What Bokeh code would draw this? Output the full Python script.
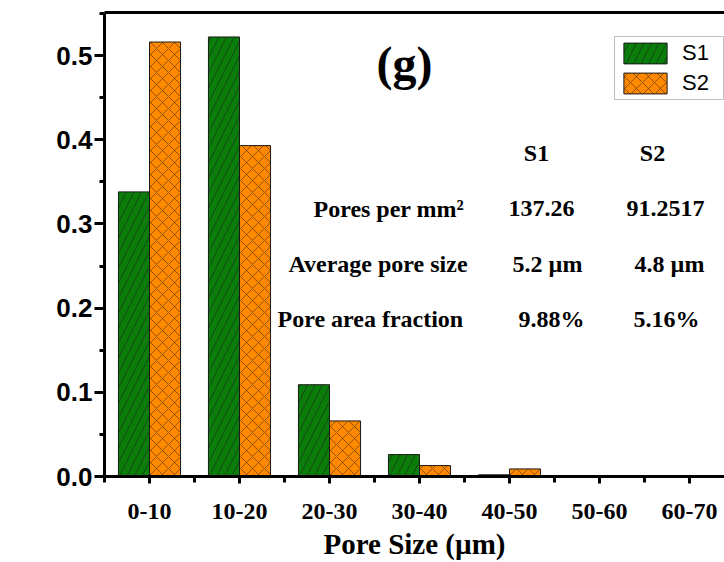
import math
from bokeh.plotting import figure
from bokeh.models import (Range1d, FixedTicker, LinearAxis,
                          Legend, LegendItem, Label, PrintfTickFormatter, ColumnDataSource)
from bokeh.transform import dodge
from bokeh.embed import file_html
from bokeh.resources import INLINE

# ---------------- data ----------------
categories = ["0-10", "10-20", "20-30", "30-40", "40-50", "50-60", "60-70"]
s1_freq = [0.338, 0.522, 0.109, 0.026, 0.002, 0.0, 0.0]
s2_freq = [0.516, 0.393, 0.066, 0.013, 0.009, 0.0, 0.0]
series_names = ["S1", "S2"]
panel_tag = "(g)"
table_header = ["S1", "S2"]
table_rows = ["Pores per mm\u00b2", "Average pore size", "Pore area fraction"]
table_s1 = ["137.26", "5.2 \u00b5m", "9.88%"]
table_s2 = ["91.2517", "4.8 \u00b5m", "5.16%"]
y_ticks = [0.0, 0.1, 0.2, 0.3, 0.4, 0.5]

# ---------------- layout helpers ----------------
X0_PX, DX_PX = 149.0, 90.0      # pixel of first group centre, pixels per group
Y0_PX, DY_PX = 476.0, 842.0     # pixel of y=0, pixels per unit


def dx(px):
    return 1 + (px - X0_PX) / DX_PX


def dy(py):
    return (Y0_PX - py) / DY_PX


xpos = list(range(1, len(categories) + 1))
src = ColumnDataSource(dict(x=xpos, s1=s1_freq, s2=s2_freq))

p = figure(width=724, height=562, output_backend="svg", toolbar_location=None,
           x_range=Range1d(0.5, dx(724)), y_range=Range1d(0, dy(12)),
           min_border_left=104, min_border_right=0, min_border_top=12,
           min_border_bottom=86)
p.outline_line_color = None
p.grid.visible = False
p.background_fill_color = "white"
p.border_fill_color = "white"

BW = 0.345
r1 = p.vbar(x=dodge("x", -BW / 2), top="s1", width=BW, source=src,
            fill_color="#0a7d0a", line_color="#1a1a1a", line_width=1,
            hatch_pattern="right_diagonal_line", hatch_color="#1a1a1a",
            hatch_alpha=0.55, hatch_scale=15, hatch_weight=1)
r2 = p.vbar(x=dodge("x", BW / 2), top="s2", width=BW, source=src,
            fill_color="#ff8800", line_color="#1a1a1a", line_width=1,
            hatch_pattern="diagonal_cross", hatch_color="#3a2a10",
            hatch_alpha=0.55, hatch_scale=12, hatch_weight=1)

# ---------------- axes ----------------
SERIF = "Liberation Serif"
SANS = "Liberation Sans"

yax = p.yaxis[0]
yax.ticker = FixedTicker(ticks=y_ticks, minor_ticks=[0.05, 0.15, 0.25, 0.35, 0.45, 0.55])
yax.formatter = PrintfTickFormatter(format="%.1f")
yax.axis_line_width = 3
yax.axis_line_color = "black"
yax.major_tick_line_width = 3
yax.minor_tick_line_width = 3
yax.major_tick_out = 10
yax.major_tick_in = 0
yax.minor_tick_out = 5
yax.minor_tick_in = 0
yax.major_label_standoff = 2
yax.major_label_text_font = SANS
yax.major_label_text_font_style = "bold"
yax.major_label_text_font_size = "26px"
yax.major_label_text_color = "black"

xax = p.xaxis[0]
xax.ticker = FixedTicker(ticks=xpos, minor_ticks=[v - 0.5 for v in xpos] + [xpos[-1] + 0.5])
xax.major_label_overrides = {v: c for v, c in zip(xpos, categories)}
xax.axis_line_width = 3
xax.axis_line_color = "black"
xax.major_tick_line_width = 3
xax.minor_tick_line_width = 3
xax.major_tick_out = 7
xax.major_tick_in = 0
xax.minor_tick_out = 6
xax.minor_tick_in = 0
xax.major_label_standoff = 20
xax.major_label_text_font = SERIF
xax.major_label_text_font_style = "bold"
xax.major_label_text_font_size = "24px"
xax.major_label_text_color = "black"
xax.axis_label = "Pore Size (\u00b5m)"
xax.axis_label_text_font = SERIF
xax.axis_label_text_font_style = "bold"
xax.axis_label_text_font_size = "29px"
xax.axis_label_text_color = "black"
xax.axis_label_standoff = 6

top = LinearAxis(ticker=FixedTicker(ticks=[]), axis_line_width=3, axis_line_color="black",
                 major_tick_line_color=None, minor_tick_line_color=None,
                 major_tick_out=0, minor_tick_out=0, major_label_standoff=0,
                 major_label_text_font_size="0px")
p.add_layout(top, "above")

# y axis title
p.add_layout(Label(x=dx(24), y=dy(263), text="Frequency", angle=math.pi / 2,
                   text_align="center", text_baseline="middle",
                   text_font=SERIF, text_font_style="bold",
                   text_font_size="29px", text_color="black"))

# panel tag
p.add_layout(Label(x=dx(404), y=dy(63), text=panel_tag, text_align="center",
                   text_baseline="middle", text_font=SERIF, text_font_style="bold",
                   text_font_size="48px", text_color="black"))

# ---------------- table ----------------
TF = dict(text_font=SERIF, text_font_style="bold", text_font_size="24px",
          text_color="black", text_baseline="middle")
header_px = [536, 652]
for t, px in zip(table_header, header_px):
    p.add_layout(Label(x=dx(px), y=dy(152), text=t, text_align="center", **TF))

row_py = [208, 263, 318]
row_left_px = [313, 288, 277]
s1_px = [541, 547, 551]
s2_px = [665, 669, 666]
for i, name in enumerate(table_rows):
    p.add_layout(Label(x=dx(row_left_px[i]), y=dy(row_py[i]), text=name,
                       text_align="left", **TF))
    p.add_layout(Label(x=dx(s1_px[i]), y=dy(row_py[i]), text=table_s1[i],
                       text_align="center", **TF))
    p.add_layout(Label(x=dx(s2_px[i]), y=dy(row_py[i]), text=table_s2[i],
                       text_align="center", **TF))

# ---------------- legend ----------------
legend = Legend(items=[LegendItem(label=series_names[0], renderers=[r1]),
                       LegendItem(label=series_names[1], renderers=[r2])],
                location=(510, 376), glyph_width=54, glyph_height=26, spacing=4,
                padding=3, margin=0, label_standoff=10, label_width=38,
                label_text_font=SANS, label_text_font_size="22px",
                label_text_color="black",
                border_line_color="#808080", border_line_width=1,
                background_fill_color="white", background_fill_alpha=1.0)
p.add_layout(legend)

open("out.html", "w").write(file_html(p, INLINE))
